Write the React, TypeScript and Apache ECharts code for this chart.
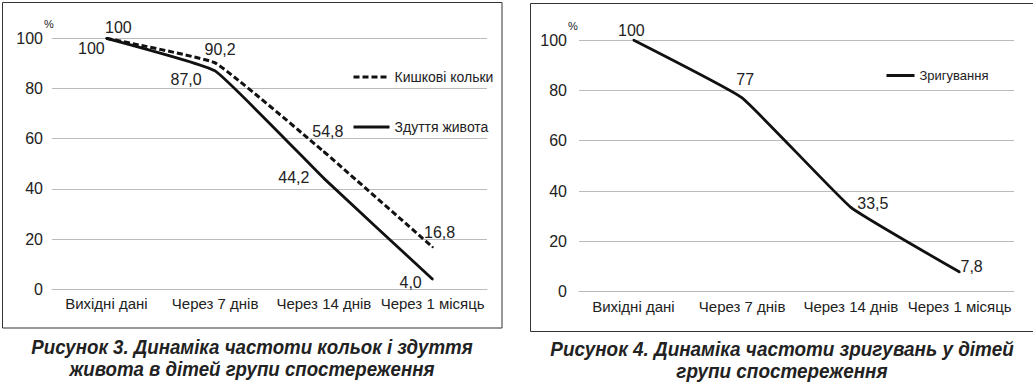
import React, { useEffect, useRef } from "react";
import * as echarts from "echarts";

const categories = ["Вихідні дані", "Через 7 днів", "Через 14 днів", "Через 1 місяць"];
const yTicks = [0, 20, 40, 60, 80, 100];
const colicName = "Кишкові кольки";
const colicValues = [100, 90.2, 54.8, 16.8];
const bloatName = "Здуття живота";
const bloatValues = [100, 87.0, 44.2, 4.0];
const regurgName = "Зригування";
const regurgValues = [100, 77, 33.5, 7.8];
const caption3 = ["Рисунок 3. Динаміка частоти кольок і здуття", "живота в дітей групи спостереження"];
const caption4 = ["Рисунок 4. Динаміка частоти зригувань у дітей", "групи спостереження"];

// label centre offsets from each point (styling only)
const colicLabelOffsets = [[12, -11], [5, -13], [4, -20], [7, -15]];
const bloatLabelOffsets = [[-15, 10], [-29, 9], [-30, -1], [-22, 3]];
const regurgLabelOffsets = [[-2, -10], [3, -18], [22, -4], [12, -6]];

const FONT = "'Liberation Sans', Arial, sans-serif";
const TEXT = "#222";
const LINE = "#111";

function withLabels(values: number[], offsets: number[][]) {
  return values.map((v, i) => ({
    value: v,
    label: { position: [offsets[i][0] + 1, offsets[i][1] + 1] },
  }));
}

const fmtFixed = (p: any) => (p.value === 100 ? "100" : Number(p.value).toFixed(1).replace(".", ","));
const fmtPlain = (p: any) => String(p.value).replace(".", ",");

export default function App() {
  const ref = useRef<HTMLDivElement>(null);
  useEffect(() => {
    document.body.style.margin = "0";
    const chart = echarts.init(ref.current!, null, { renderer: "svg" });
    const labelBase = {
      show: true,
      fontSize: 16,
      fontFamily: FONT,
      color: TEXT,
      align: "center",
      verticalAlign: "middle",
    };
    const xAxisBase = {
      type: "category",
      data: categories,
      boundaryGap: true,
      axisLine: { show: true, lineStyle: { color: "#bbb", width: 1 } },
      axisTick: { show: false },
      axisLabel: { fontSize: 15, fontFamily: FONT, color: TEXT, margin: 7, interval: 0 },
    };
    const yAxisBase = {
      type: "value",
      min: 0,
      max: 100,
      interval: 20,
      axisLine: { show: false },
      axisTick: { show: false },
      splitLine: { show: true, lineStyle: { color: "#bbb", width: 1 } },
      name: "%",
      nameLocation: "end",
      nameGap: 9,
      nameTextStyle: { fontSize: 11, fontFamily: FONT, color: TEXT, align: "center" },
      axisLabel: {
        fontSize: 16,
        fontFamily: FONT,
        color: TEXT,
        formatter: (v: number) => (yTicks.includes(v) ? String(v) : ""),
      },
    };
    const legendBase = {
      padding: 0,
      itemHeight: 3,
      itemGap: 0,
      selectedMode: false,
      itemStyle: { opacity: 0 },
      lineStyle: { width: 3 },
    };
    const captionFont = `italic bold 21px 'Liberation Sans', Arial, sans-serif`;
    const option: any = {
      animation: false,
      backgroundColor: "#fff",
      grid: [
        { left: 52, top: 38.3, width: 435, height: 251 },
        { left: 579, top: 40, width: 435, height: 251.7 },
      ],
      xAxis: [
        { ...xAxisBase, gridIndex: 0 },
        { ...xAxisBase, gridIndex: 1 },
      ],
      yAxis: [
        { ...yAxisBase, gridIndex: 0, axisLabel: { ...yAxisBase.axisLabel, margin: 9 }, nameTextStyle: { ...yAxisBase.nameTextStyle, padding: [0, 6, 0, 0] } },
        { ...yAxisBase, gridIndex: 1, axisLabel: { ...yAxisBase.axisLabel, margin: 12 }, nameTextStyle: { ...yAxisBase.nameTextStyle, padding: [0, 0, 0, -12] } },
      ],
      legend: [
        {
          ...legendBase,
          data: [colicName],
          left: 352,
          top: 70,
          itemWidth: 36,
          lineStyle: { width: 3, type: [6, 3] },
          textStyle: { fontSize: 14, fontFamily: FONT, color: TEXT },
        },
        {
          ...legendBase,
          data: [bloatName],
          left: 352,
          top: 120,
          itemWidth: 36,
          textStyle: { fontSize: 14, fontFamily: FONT, color: TEXT },
        },
        {
          ...legendBase,
          data: [regurgName],
          left: 885,
          top: 69,
          itemWidth: 28,
          textStyle: { fontSize: 13, fontFamily: FONT, color: TEXT },
        },
      ],
      series: [
        {
          name: colicName,
          type: "line",
          xAxisIndex: 0,
          yAxisIndex: 0,
          data: withLabels(colicValues, colicLabelOffsets),
          smooth: 0.1,
          symbol: "circle",
          symbolSize: 2,
          itemStyle: { color: LINE },
          lineStyle: { color: LINE, width: 3, type: [6, 3] },
          label: { ...labelBase, formatter: fmtFixed },
          z: 3,
        },
        {
          name: bloatName,
          type: "line",
          xAxisIndex: 0,
          yAxisIndex: 0,
          data: withLabels(bloatValues, bloatLabelOffsets),
          smooth: 0.1,
          symbol: "circle",
          symbolSize: 2,
          itemStyle: { color: LINE },
          lineStyle: { color: LINE, width: 2.8 },
          label: { ...labelBase, formatter: fmtFixed },
          z: 4,
        },
        {
          name: regurgName,
          type: "line",
          xAxisIndex: 1,
          yAxisIndex: 1,
          data: withLabels(regurgValues, regurgLabelOffsets),
          smooth: 0.1,
          symbol: "circle",
          symbolSize: 2,
          itemStyle: { color: LINE },
          lineStyle: { color: LINE, width: 2.8 },
          label: { ...labelBase, formatter: fmtPlain },
        },
      ],
      graphic: [
        {
          type: "rect",
          shape: { x: 2.5, y: 2.5, width: 499.5, height: 325.5 },
          style: { fill: "none", stroke: "#333", lineWidth: 1 },
          silent: true,
        },
        {
          type: "rect",
          shape: { x: 530.5, y: 3.5, width: 520, height: 328 },
          style: { fill: "none", stroke: "#333", lineWidth: 1 },
          silent: true,
        },
        ...[0, 1].map((i) => ({
          type: "text",
          x: 252,
          y: 347 + i * 22,
          scaleX: 0.89,
          style: {
            text: caption3[i],
            font: captionFont,
            fill: TEXT,
            align: "center",
            verticalAlign: "middle",
          },
        })),
        ...[0, 1].map((i) => ({
          type: "text",
          x: 782,
          y: 349 + i * 22,
          scaleX: 0.9,
          style: {
            text: caption4[i],
            font: captionFont,
            fill: TEXT,
            align: "center",
            verticalAlign: "middle",
          },
        })),
      ],
    };
    chart.setOption(option);
    return () => chart.dispose();
  }, []);
  return <div ref={ref} style={{ width: 1033, height: 382 }} />;
}
